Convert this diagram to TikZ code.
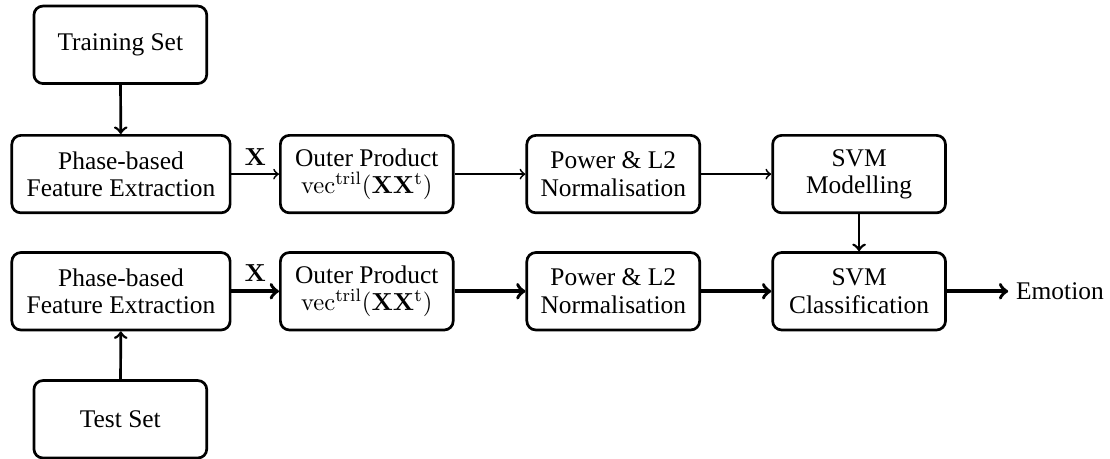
\documentclass[tikz,border=0pt]{standalone}
\usepackage{amsmath}
\usepackage[no-math]{fontspec}
\setmainfont{Liberation Serif}
\tikzset{
  txt/.style={font=\fontsize{11.3}{12.2}\selectfont},
  blok/.style={txt, draw, very thick, rounded corners=4pt, align=center,
               minimum width=2.7cm, minimum height=1.21cm, inner sep=2pt},
  large/.style={minimum width=3.41cm}
}
\begin{document}
\begin{tikzpicture}
    \useasboundingbox (0,0) rectangle (17.34,-7.17);
    % top row : training
    \node[blok] (train) at (1.88,-0.70) {Training Set};
    \node[blok, large] (feat1) at (1.89,-2.72) {Phase-based\\Feature Extraction};
    \node[blok] (outer1) at (5.73,-2.72) {Outer Product\\$\mathrm{vec}^{\mathrm{tril}}(\mathbf{X}\mathbf{X}^{\mathrm{t}})$};
    \node[blok] (norm1) at (9.58,-2.72) {Power \& L2\\Normalisation};
    \node[blok] (svm1) at (13.42,-2.72) {SVM\\Modelling};
    % bottom row : test
    \node[blok, large] (feat2) at (1.89,-4.55) {Phase-based\\Feature Extraction};
    \node[blok] (outer2) at (5.73,-4.55) {Outer Product\\$\mathrm{vec}^{\mathrm{tril}}(\mathbf{X}\mathbf{X}^{\mathrm{t}})$};
    \node[blok] (norm2) at (9.58,-4.55) {Power \& L2\\Normalisation};
    \node[blok] (svm2) at (13.42,-4.55) {SVM\\Classification};
    \node[blok] (test) at (1.88,-6.55) {Test Set};
    \node[txt, right] (emo) at (15.75,-4.55) {Emotion};

            \draw[->, very thick] (train) -- (feat1);
            \draw[->, thick] (feat1) -- (outer1) node[txt, midway, above]{$\mathbf{X}$};
            \draw[->, thick] (outer1) -- (norm1);
            \draw[->, thick] (norm1) -- (svm1);
            \draw[->, very thick] (svm1) -- (svm2);

            \draw[->, very thick] (test) -- (feat2);
            \draw[->, ultra thick] (feat2) -- (outer2) node[txt, midway, above]{$\mathbf{X}$};
            \draw[->, ultra thick] (outer2) -- (norm2);
            \draw[->, ultra thick] (norm2) -- (svm2);
            \draw[->, ultra thick] (svm2) -- (emo);
  \end{tikzpicture}
\end{document}
